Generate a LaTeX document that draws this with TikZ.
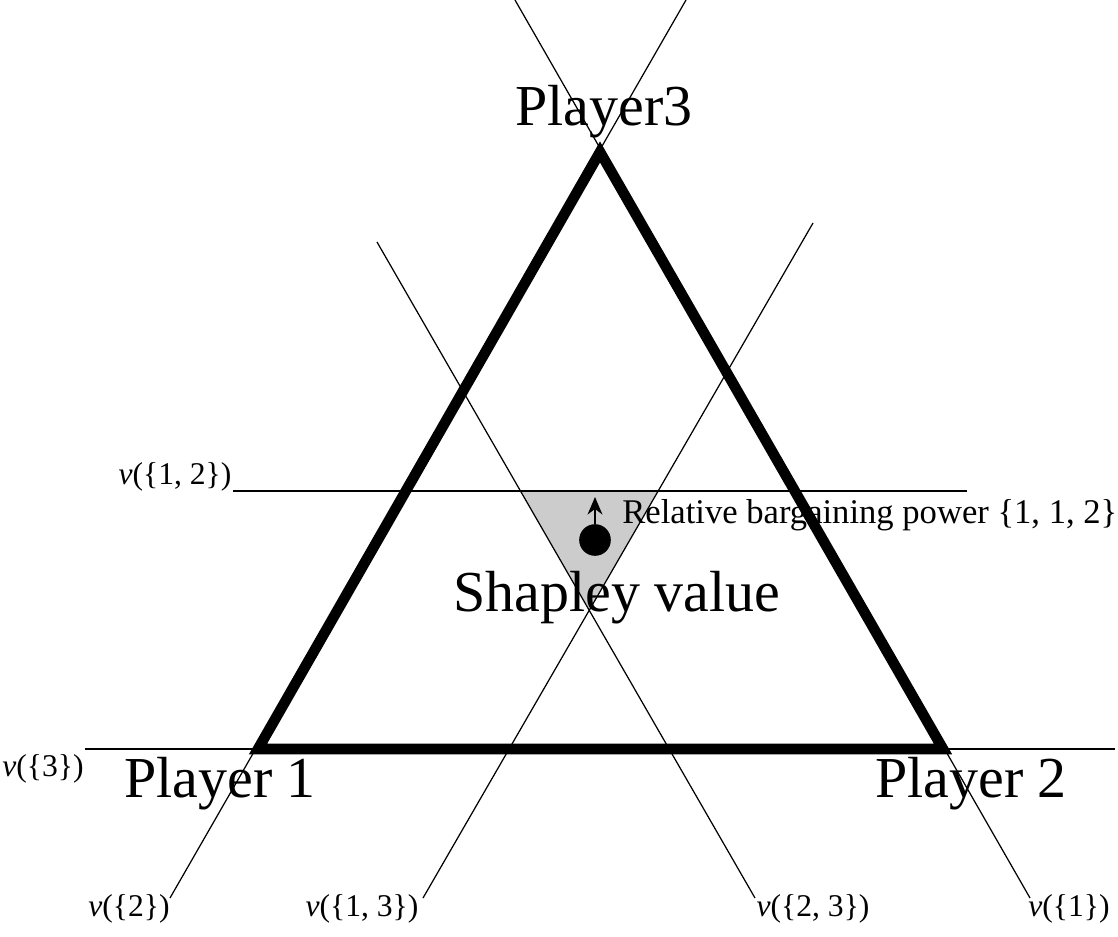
\documentclass[tikz,border=0pt]{standalone}
\usepackage{fontspec}
\setmainfont{Liberation Serif}
\usetikzlibrary{arrows.meta}

\begin{document}
\begin{tikzpicture}[
    x=0.02cm, y=-0.02cm,
    side/.style={line width=6pt, line join=miter},
    cut/.style={line width=0.7pt},
    core/.style={fill=black!20, draw=none},
    big/.style={font=\fontsize{33}{39}\selectfont, inner sep=0pt, anchor=base},
    lab/.style={font=\fontsize{18}{22}\selectfont, inner sep=0pt, anchor=base},
    arr/.style={-{Stealth[length=10pt, width=8.5pt]}, line width=1.1pt}
]
    \useasboundingbox (0,0) rectangle (1118,936);

    % Corners of the simplex
    \coordinate (p1) at (258,749);
    \coordinate (p2) at (943,749);
    \coordinate (p3) at (600,152);

    % Ends of the coalition lines
    \coordinate (v3a)  at (85,749);   \coordinate (v3b)  at (1115,749);
    \coordinate (v2a)  at (170,898);  \coordinate (v2b)  at (686,0);
    \coordinate (v1a)  at (515,0);    \coordinate (v1b)  at (1030,898);
    \coordinate (v12a) at (233,491);  \coordinate (v12b) at (967,491);
    \coordinate (v13a) at (423,898);  \coordinate (v13b) at (813,223);
    \coordinate (v23a) at (755,898);  \coordinate (v23b) at (377,242);

    % Core (shaded)
    \fill[core] (intersection of v12a--v12b and v13a--v13b)
        -- (intersection of v12a--v12b and v23a--v23b)
        -- (intersection of v13a--v13b and v23a--v23b) -- cycle;

    % Thin lines
    \draw[cut] (v3a) -- (v3b);
    \draw[cut] (v2a) -- (v2b);
    \draw[cut] (v1a) -- (v1b);
    \draw[cut] (v12a) -- (v12b);
    \draw[cut] (v13a) -- (v13b);
    \draw[cut] (v23a) -- (v23b);

    % Triangle
    \draw[side] (p1) -- (p2) -- (p3) -- cycle;

    % Players
    \node[big] (pl3) at (604,125) {Player3};
    \node[big] (pl1) at (220,797) {Player 1};
    \node[big] (pl2) at (971,797) {Player 2};
    \node[big] (shv) at (617,611) {Shapley value};

    % Value point and direction
    \node[circle, fill, inner sep=0pt, minimum size=18pt] (sv) at (595,540) {};
    \coordinate (tip) at (595,497);
    \draw[arr] (sv.north) -- (tip);
    \node[lab, anchor=base west, font=\fontsize{19.7}{24}\selectfont] (rbp) at (622,523)
        {Relative bargaining power \{1,~1,~2\}};

    % Coalition labels
    \node[lab] (l12) at (175,484) {\textit{v}(\{1,~2\})};
    \node[lab] (l3)  at (43,776)  {\textit{v}(\{3\})};
    \node[lab] (l2)  at (129,916) {\textit{v}(\{2\})};
    \node[lab] (l13) at (362,916) {\textit{v}(\{1,~3\})};
    \node[lab] (l23) at (813,916) {\textit{v}(\{2,~3\})};
    \node[lab] (l1)  at (1069,916) {\textit{v}(\{1\})};
\end{tikzpicture}
\end{document}
